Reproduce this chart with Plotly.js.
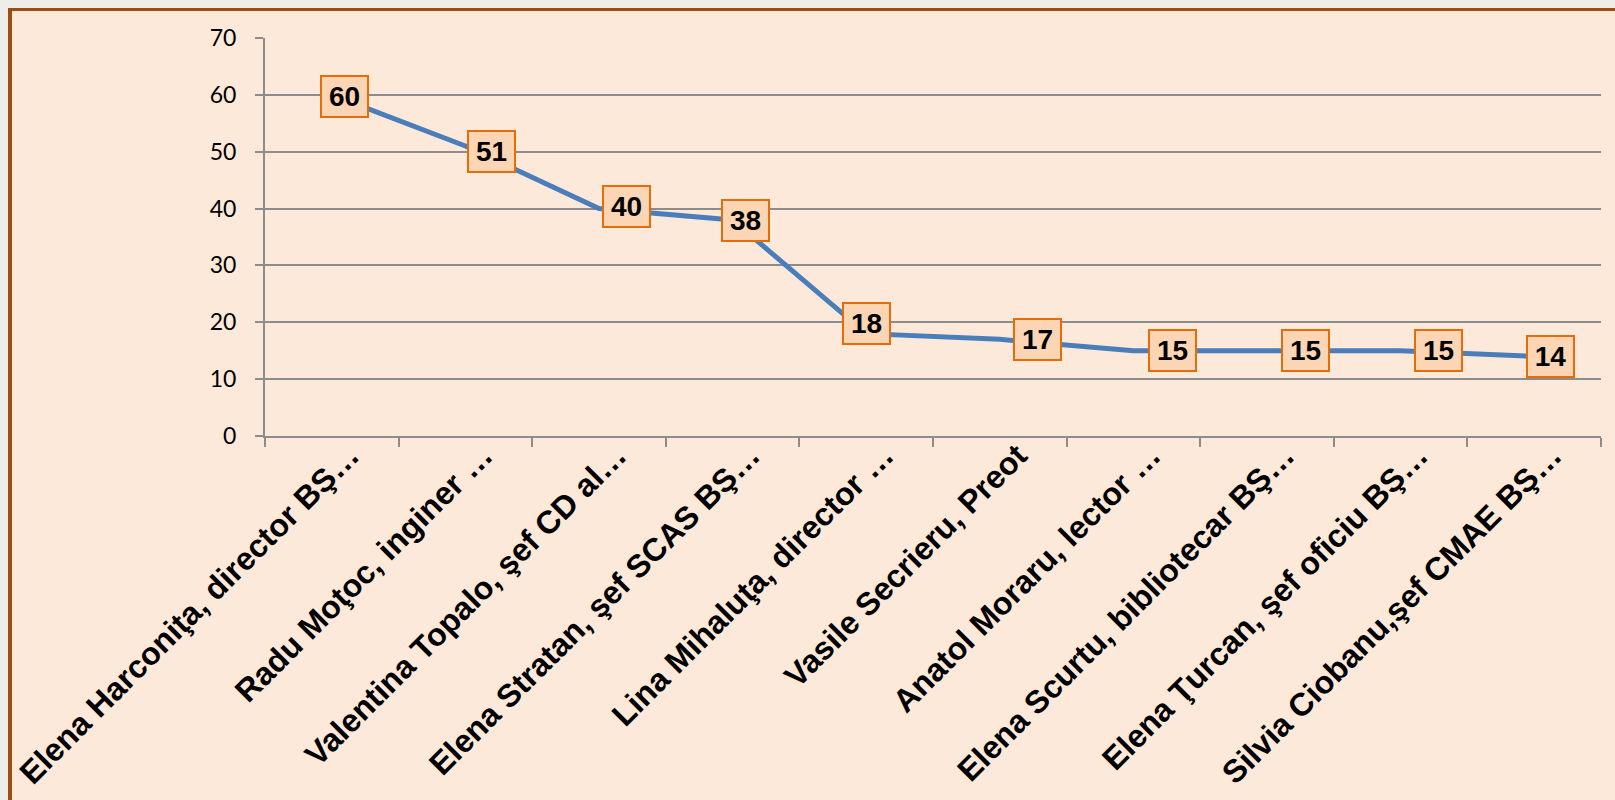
<!DOCTYPE html>
<html>
<head>
<meta charset="utf-8">
<script src="https://cdn.plot.ly/plotly-3.0.1.min.js"></script>
<style>
  html, body { margin: 0; padding: 0; width: 1615px; height: 800px; overflow: hidden; background: #EFEDE8; }
  #frame { position: absolute; left: 8px; top: 8px; width: 1607px; height: 792px; box-sizing: border-box;
           background: #FDE9DA; border-left: 4px solid #A04D12; border-top: 3px solid #A04D12; }
  #chart { position: absolute; left: 0; top: 0; width: 1615px; height: 800px; }
</style>
</head>
<body>
<div id="frame"></div>
<div id="chart"></div>
<script>
// ---- data ----
const categories = [
  "Elena Harconiţa, director BŞ…",
  "Radu Moţoc, inginer …",
  "Valentina Topalo, şef CD al…",
  "Elena Stratan, şef SCAS BŞ…",
  "Lina Mihaluţa, director …",
  "Vasile Secrieru, Preot",
  "Anatol Moraru, lector …",
  "Elena Scurtu, bibliotecar BŞ…",
  "Elena Ţurcan, şef oficiu BŞ…",
  "Silvia Ciobanu,şef CMAE BŞ…"
];
const values = [60, 51, 40, 38, 18, 17, 15, 15, 15, 14];
const yTickValues = [0, 10, 20, 30, 40, 50, 60, 70];

// label placement (manually dragged labels in the original), in pixels
const labelShiftX = [13, 26, 27, 13, 0, 38, 39, 38, 38, 16];
const labelShiftY = [-2, -5, 2, -1, 10, 0, 0, 0, 0, 0];

const grey = "#8C8C8C";

const trace = {
  type: "scatter",
  mode: "lines",
  x: categories,
  y: values,
  line: { color: "#4A7EBB", width: 5 },
  hoverinfo: "skip"
};

const annotations = values.map((v, i) => ({
  x: categories[i],
  y: v,
  xref: "x",
  yref: "y",
  text: String(v),
  showarrow: false,
  font: { family: "Liberation Sans, Arial, sans-serif", size: 28, weight: "bold", color: "#000000" },
  bgcolor: "#FCD5B5",
  bordercolor: "#E46C0A",
  borderwidth: 2,
  borderpad: 1,
  width: 43,
  height: 37,
  xshift: labelShiftX[i],
  yshift: labelShiftY[i]
}));

const layout = {
  width: 1615,
  height: 800,
  margin: { l: 265, r: 14, t: 38, b: 364, pad: 0 },
  paper_bgcolor: "rgba(0,0,0,0)",
  plot_bgcolor: "rgba(0,0,0,0)",
  showlegend: false,
  xaxis: {
    type: "category",
    range: [-0.5, categories.length - 0.5],
    tickson: "boundaries",
    ticks: "outside",
    ticklen: 9,
    tickwidth: 2,
    tickcolor: grey,
    showline: true,
    linecolor: grey,
    linewidth: 2,
    showgrid: false,
    tickangle: -45,
    automargin: false,
    ticklabelshift: 18,
    ticklabelstandoff: -14,
    tickfont: { family: "Liberation Sans, Arial, sans-serif", size: 32, weight: "bold", color: "#000000" }
  },
  yaxis: {
    range: [0, 70],
    tickvals: yTickValues,
    ticktext: yTickValues.map(String),
    ticks: "outside",
    ticklen: 8,
    tickwidth: 2,
    tickcolor: grey,
    showline: true,
    linecolor: grey,
    linewidth: 2,
    showgrid: true,
    gridcolor: grey,
    gridwidth: 2,
    zeroline: false,
    automargin: false,
    ticklabelstandoff: 14,
    tickfont: { family: "Lato, Open Sans, sans-serif", size: 23, color: "#000000" }
  },
  annotations: annotations
};

Plotly.newPlot("chart", [trace], layout, { staticPlot: true, displayModeBar: false });
</script>
</body>
</html>
